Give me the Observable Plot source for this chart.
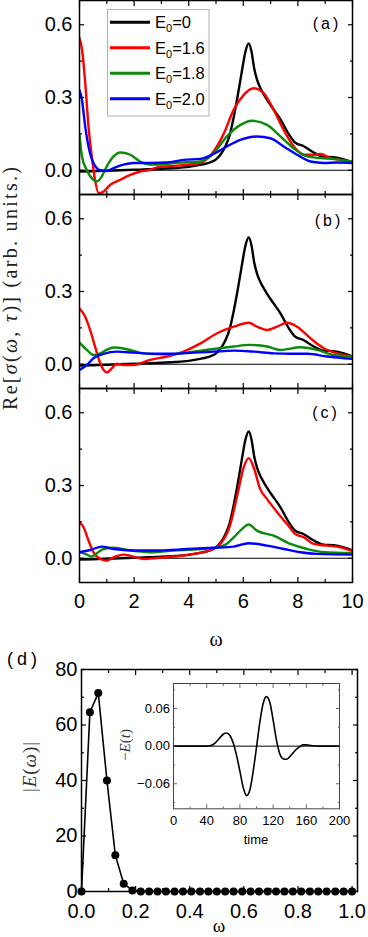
<!DOCTYPE html>
<html><head><meta charset="utf-8">
<script src="https://cdn.jsdelivr.net/npm/d3@7"></script>
<script src="https://cdn.jsdelivr.net/npm/@observablehq/plot@0.6"></script>
<style>
html,body{margin:0;padding:0;background:#fff;}
#root{position:relative;width:368px;height:937px;overflow:hidden;background:#fff;}
#root > svg{position:absolute;left:0;overflow:visible;}
</style></head><body><div id="root"></div>
<script>
// ---------- data ----------
const seriesNames = ["E0=0", "E0=1.6", "E0=1.8", "E0=2.0"];
const seriesColors = ["#000000", "#ff0000", "#0b8a0b", "#0000ff"];
const panelNames = ["(a)", "(b)", "(c)"];
const omegaTicksMajor = [0, 2, 4, 6, 8, 10];
const omegaTicksMinor = [1, 3, 5, 7, 9];
const sigmaTicksMajor = [0, 0.3, 0.6];
const sigmaTicksMinor = [0.15, 0.45];

// E0 = 0 reference spectrum (same in all three panels): [omega, Re sigma]
const e0Zero = [[0,-0.005],[0.5,-0.004],[1,-0.002],[1.5,0],[2,0.002],[2.5,0.004],[3,0.006],[3.5,0.009],[4,0.014],[4.5,0.024],[4.8,0.033],[5.0,0.045],[5.2,0.07],[5.35,0.1],[5.5,0.145],[5.65,0.22],[5.8,0.31],[5.95,0.41],[6.08,0.49],[6.2,0.523],[6.3,0.49],[6.4,0.42],[6.5,0.375],[6.62,0.34],[6.75,0.313],[6.99,0.27],[7.36,0.21],[7.67,0.148],[7.9,0.114],[8.2,0.1],[8.58,0.073],[8.95,0.056],[9.3,0.054],[9.68,0.045],[10,0.032]];

// panel (a)
const aE16 = [[0,0.545],[0.09,0.5],[0.21,0.36],[0.33,0.18],[0.45,0.057],[0.57,-0.04],[0.7,-0.094],[0.85,-0.09],[1.13,-0.06],[1.5,-0.039],[1.86,-0.019],[2.23,-0.005],[2.6,0.002],[2.84,0.012],[3.2,0.016],[3.69,0.02],[4.43,0.03],[4.91,0.077],[5.28,0.15],[5.65,0.25],[6.01,0.31],[6.38,0.338],[6.75,0.317],[7.11,0.25],[7.48,0.166],[7.85,0.098],[8.22,0.064],[8.58,0.064],[8.83,0.067],[9.19,0.05],[9.56,0.043],[10,0.032]];
const aE18 = [[0,0.146],[0.09,0.057],[0.27,0],[0.51,-0.039],[0.64,-0.046],[0.82,-0.025],[1.0,0.016],[1.25,0.057],[1.49,0.073],[1.86,0.064],[2.22,0.036],[2.59,0.023],[2.96,0.023],[3.45,0.03],[4.43,0.036],[4.91,0.07],[5.4,0.14],[5.9,0.187],[6.32,0.204],[6.87,0.187],[7.36,0.14],[7.85,0.09],[8.34,0.057],[8.83,0.05],[9.32,0.046],[10,0.036]];
const aE20 = [[0,0.33],[0.09,0.29],[0.21,0.18],[0.33,0.098],[0.51,0.03],[0.76,0],[1.0,-0.003],[1.25,0.009],[1.61,0.023],[1.98,0.03],[2.59,0.03],[3.2,0.032],[3.81,0.043],[4.43,0.047],[4.91,0.067],[5.4,0.098],[5.89,0.125],[6.5,0.139],[6.99,0.132],[7.48,0.098],[7.97,0.064],[8.46,0.036],[8.95,0.03],[9.44,0.032],[10,0.03]];

// panel (b)
const bE16 = [[0,0.23],[0.21,0.196],[0.39,0.141],[0.57,0.073],[0.76,0.004],[0.88,-0.023],[1.0,-0.034],[1.19,-0.016],[1.37,0.002],[1.61,-0.003],[1.98,-0.003],[2.59,0.018],[3.2,0.032],[3.81,0.052],[4.43,0.086],[5.04,0.128],[5.65,0.155],[6.2,0.171],[6.5,0.155],[6.87,0.141],[7.24,0.155],[7.6,0.171],[7.97,0.155],[8.46,0.107],[8.95,0.066],[9.44,0.045],[10,0.032]];
const bE18 = [[0,0.089],[0.27,0.059],[0.51,0.038],[0.76,0.045],[1.0,0.06],[1.25,0.069],[1.74,0.062],[2.35,0.045],[3.2,0.041],[3.94,0.048],[4.91,0.063],[5.65,0.073],[6.2,0.08],[6.87,0.073],[7.36,0.059],[8.09,0.07],[8.7,0.059],[9.32,0.038],[10,0.032]];
const bE20 = [[0,-0.023],[0.27,-0.003],[0.51,0.025],[0.88,0.043],[1.37,0.052],[1.98,0.048],[2.71,0.043],[3.45,0.043],[4.18,0.048],[4.91,0.052],[5.65,0.056],[6.38,0.052],[7.11,0.045],[7.73,0.043],[8.34,0.043],[9.07,0.032],[10,0.022]];

// panel (c)
const cE16 = [[0,0.148],[0.15,0.128],[0.33,0.073],[0.51,0.025],[0.76,-0.003],[1.0,-0.01],[1.25,0.004],[1.61,0.015],[1.98,0.007],[2.35,-0.003],[2.84,0.001],[3.45,0.007],[4.18,0.018],[4.79,0.034],[5.16,0.059],[5.5,0.13],[5.8,0.27],[6.0,0.37],[6.2,0.413],[6.38,0.375],[6.62,0.285],[6.87,0.244],[7.24,0.19],[7.6,0.141],[7.91,0.1],[8.22,0.086],[8.58,0.059],[9.07,0.052],[9.56,0.045],[10,0.029]];
const cE18 = [[0,0.025],[0.27,0.015],[0.45,0.007],[0.64,0.021],[0.88,0.038],[1.25,0.043],[1.74,0.034],[2.59,0.025],[3.45,0.032],[4.43,0.038],[5.04,0.045],[5.4,0.06],[5.65,0.086],[5.95,0.12],[6.2,0.139],[6.5,0.114],[7.11,0.093],[7.73,0.059],[8.34,0.038],[8.95,0.025],[10,0.021]];
const cE20 = [[0,0.025],[0.39,0.034],[0.82,0.048],[1.25,0.038],[1.98,0.032],[2.96,0.032],[3.94,0.038],[4.91,0.043],[5.65,0.048],[6.2,0.062],[6.87,0.052],[7.48,0.038],[8.09,0.025],[8.7,0.018],[10,0.015]];

// panel (d): spectrum of the pulse
const omegaD = [0,0.031,0.062,0.094,0.125,0.156,0.188,0.219,0.25,0.281,0.312,0.344,0.375,0.406,0.438,0.469,0.5,0.531,0.562,0.594,0.625,0.656,0.688,0.719,0.75,0.781,0.812,0.844,0.875,0.906,0.938,0.969,1.0];
const absE = [0,64.6,71.5,40,13.1,2.8,0.4,0,0,0,0,0,0,0,0,0,0,0,0,0,0,0,0,0,0,0,0,0,0,0,0,0,0];
const dTicksXMajor = [0, 0.2, 0.4, 0.6, 0.8, 1.0];
const dTicksXMinor = [0.1, 0.3, 0.5, 0.7, 0.9];
const dTicksYMajor = [0, 20, 40, 60, 80];
const dTicksYMinor = [10, 30, 50, 70];

// inset: pulse in time
const timeT = [0,40,45,50,55,60,64,68,72,76,80,84,88,92,96,100,104,108,112,116,120,124,128,132,136,140,144,148,152,156,160,166,175,200];
const minusE = [0,0,0.001,0.005,0.012,0.019,0.021,0.017,0.005,-0.015,-0.04,-0.066,-0.079,-0.07,-0.04,-0.002,0.038,0.068,0.079,0.07,0.042,0.01,-0.012,-0.02,-0.021,-0.017,-0.011,-0.005,-0.001,0.002,0.002,0.001,0,0];
const insetTicksXMajor = [0, 40, 80, 120, 160, 200];
const insetTicksXMinor = [20, 60, 100, 140, 180];
const insetTicksYMajor = [-0.06, 0, 0.06];
const insetTicksYMinor = [-0.09, -0.03, 0.03, 0.09];

// ---------- drawing ----------
const FONT = "'Liberation Sans', Arial, Helvetica, sans-serif";
const SERIF = "'Liberation Serif', 'Times New Roman', serif";
const root = document.getElementById("root");
function place(svg, top) { svg.style.top = top + "px"; root.appendChild(svg); }

function inward(xs, ys, len, sw, color) {
  const m = [];
  for (const anchor of ["top", "bottom"]) m.push(Plot.axisX(xs, {anchor, tickSize: -len, fill: "none", stroke: color, strokeWidth: sw, label: null}));
  for (const anchor of ["left", "right"]) m.push(Plot.axisY(ys, {anchor, tickSize: -len, fill: "none", stroke: color, strokeWidth: sw, label: null}));
  return m;
}

function topPanel(series, top, showX) {
  const rows = series.flatMap((arr, i) => arr.map(([w, v]) => ({w, v, s: seriesNames[i]})));
  const mb = showX ? 50 : 0;
  const svg = Plot.plot({
    width: 368, height: 194 + mb,
    marginLeft: 79, marginRight: 16, marginTop: 0, marginBottom: mb,
    x: {domain: [0, 10], label: null},
    y: {domain: [-0.1, 0.7], label: null},
    color: {domain: seriesNames, range: seriesColors},
    style: {fontFamily: FONT, fontSize: "20px", color: "black", background: "transparent", overflow: "visible"},
    marks: [
      Plot.ruleY([0], {stroke: "black", strokeWidth: 1}),
      Plot.line(rows, {x: "w", y: "v", z: "s", stroke: "s", strokeWidth: 2.4, curve: "monotone-x", clip: true}),
      Plot.frame({stroke: "black", strokeWidth: 1.5}),
      ...inward(omegaTicksMajor, sigmaTicksMajor, 5, 1.2, "black"),
      ...inward(omegaTicksMinor, sigmaTicksMinor, 3, 1.2, "black"),
      Plot.axisY(sigmaTicksMajor, {anchor: "left", tickSize: 0, tickPadding: 7, tickFormat: d3.format(".1f"), label: null}),
      showX ? Plot.axisX(omegaTicksMajor, {anchor: "bottom", tickSize: 0, tickPadding: 11, tickFormat: d3.format("d"), label: null}) : null
    ]
  });
  place(svg, top);
}

topPanel([e0Zero, aE16, aE18, aE20], 0, false);
topPanel([e0Zero, bE16, bE18, bE20], 194, false);
topPanel([e0Zero, cE16, cE18, cE20], 388, true);

// panel (d)
const dRows = omegaD.map((w, i) => ({w, e: absE[i]}));
place(Plot.plot({
  width: 368, height: 337,
  marginLeft: 81, marginRight: 11, marginTop: 69, marginBottom: 46,
  x: {domain: [0, 1.02], label: null},
  y: {domain: [0, 80], label: null},
  style: {fontFamily: FONT, fontSize: "20px", color: "black", background: "transparent", overflow: "visible"},
  marks: [
    Plot.line(dRows, {x: "w", y: "e", stroke: "black", strokeWidth: 1.6}),
    Plot.dot(dRows, {x: "w", y: "e", r: 4, fill: "black"}),
    Plot.frame({stroke: "black", strokeWidth: 1.5}),
    ...inward(dTicksXMajor, dTicksYMajor, 5, 1.2, "black"),
    ...inward(dTicksXMinor, dTicksYMinor, 3, 1.2, "black"),
    Plot.axisY(dTicksYMajor, {anchor: "left", tickSize: 0, tickPadding: 4, tickFormat: d3.format("d"), label: null}),
    Plot.axisX(dTicksXMajor, {anchor: "bottom", tickSize: 0, tickPadding: 12, tickFormat: d3.format(".1f"), label: null})
  ]
}), 600);

// inset
const insetRows = timeT.map((t, i) => ({t, e: minusE[i]}));
place(Plot.plot({
  width: 368, height: 337,
  marginLeft: 173, marginRight: 29, marginTop: 83, marginBottom: 128.7,
  x: {domain: [0, 200], label: null},
  y: {domain: [-0.1, 0.1], label: null},
  style: {fontFamily: FONT, fontSize: "13px", color: "black", background: "transparent", overflow: "visible"},
  marks: [
    Plot.ruleY([0], {stroke: "black", strokeWidth: 1}),
    Plot.line(insetRows, {x: "t", y: "e", stroke: "black", strokeWidth: 1.6, curve: "monotone-x"}),
    Plot.frame({stroke: "#444", strokeWidth: 1}),
    ...inward(insetTicksXMajor, insetTicksYMajor, 4, 0.8, "#444"),
    ...inward(insetTicksXMinor, insetTicksYMinor, 2, 0.8, "#444"),
    Plot.axisY(insetTicksYMajor, {anchor: "left", tickSize: 0, tickPadding: 3.5, tickFormat: d3.format(".2f"), label: null}),
    Plot.axisX(insetTicksXMajor, {anchor: "bottom", tickSize: 0, tickPadding: 7, tickFormat: d3.format("d"), label: null})
  ]
}), 600);

// labels & legend overlay
const legendRowY = [22.3, 47.8, 73.3, 98.8];
const legendValues = ["0", "1.6", "1.8", "2.0"];
let legend = `<rect x="107.5" y="9.5" width="101.5" height="106.5" fill="white" stroke="#b0b0b0" stroke-width="1"/>`;
legendRowY.forEach((y, i) => {
  legend += `<line x1="110" x2="150" y1="${y}" y2="${y}" stroke="${seriesColors[i]}" stroke-width="3"/>`;
  legend += `<text x="155" y="${y + 6}" font-family="${FONT}" font-size="16.5">E<tspan font-size="11" dy="4">0</tspan><tspan dy="-4">=${legendValues[i]}</tspan></text>`;
});
const ov = document.createElementNS("http://www.w3.org/2000/svg", "svg");
ov.setAttribute("width", 368); ov.setAttribute("height", 937);
ov.style.top = "0px";
ov.innerHTML = `
${legend}
<g font-family="${FONT}" font-size="16" letter-spacing="3" text-anchor="middle">
  <text x="327" y="28.5">${panelNames[0]}</text>
  <text x="329" y="226">${panelNames[1]}</text>
  <text x="326" y="417.5">${panelNames[2]}</text>
</g>
<text x="24" y="665" font-family="${FONT}" font-size="18" letter-spacing="4" text-anchor="middle">(d)</text>
<text transform="translate(17,288.5) rotate(-90)" text-anchor="middle" font-family="${SERIF}" font-size="20" fill="#222" textLength="243" lengthAdjust="spacing">Re[<tspan font-style="italic">σ</tspan>(<tspan font-style="italic">ω</tspan>, <tspan font-style="italic">τ</tspan>)] (arb. units.)</text>
<text x="216" y="646" text-anchor="middle" font-family="${SERIF}" font-size="20">ω</text>
<text x="219" y="932" text-anchor="middle" font-family="${SERIF}" font-size="19">ω</text>
<text transform="translate(36,767) rotate(-90)" text-anchor="middle" font-family="${SERIF}" font-size="19" fill="#333" textLength="50" lengthAdjust="spacing">|<tspan font-style="italic">E</tspan>(<tspan font-style="italic">ω</tspan>)|</text>
<text transform="translate(130,745) rotate(-90)" text-anchor="middle" font-family="${SERIF}" font-size="15" fill="#333">−<tspan font-style="italic">E</tspan>(<tspan font-style="italic">t</tspan>)</text>
<text x="256" y="844" text-anchor="middle" font-family="${FONT}" font-size="13">time</text>
`;
root.appendChild(ov);
</script></body></html>
